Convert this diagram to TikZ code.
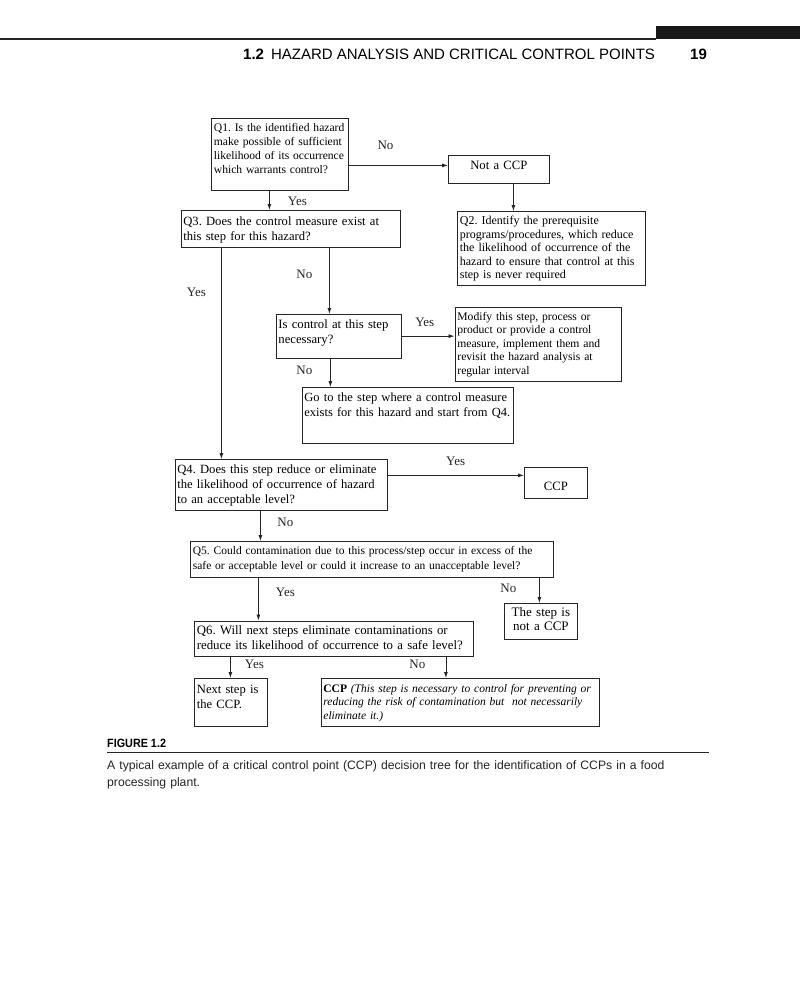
\documentclass[tikz,border=0pt]{standalone}
\usepackage{fontspec}
\setmainfont{Liberation Serif}
\newfontfamily\headfont{Liberation Sans}
\newfontfamily\figfont[FakeStretch=0.9]{Liberation Sans}
\usetikzlibrary{arrows.meta,positioning,calc}
\frenchspacing

\begin{document}
\hyphenpenalty=10000
\exhyphenpenalty=10000
\begin{tikzpicture}[x=1pt,y=-1pt,
  box/.style={draw=black!85,line width=0.8pt,anchor=north west,align=left,inner xsep=2.5pt,inner ysep=0pt},
  arr/.style={-{Latex[length=6pt,width=4pt]},line width=0.8pt,black!85}]
\fill[white] (0,0) rectangle (800,987);
\useasboundingbox (0,0) rectangle (800,987);

% running head
\draw[line width=1.2pt,black!85] (0,39) -- (656,39);
\fill[black!90] (656,26) rectangle (800,39);
\node[anchor=base west,inner sep=0pt,font=\headfont\fontsize{15}{18}\selectfont] (HD) at (243,60) {\textbf{1.2}\hspace{7pt}HAZARD ANALYSIS AND CRITICAL CONTROL POINTS};
\node[anchor=base west,inner sep=0pt,font=\headfont\fontsize{15}{18}\selectfont\bfseries] (PG) at (690,60) {19};

% decision tree
\node[box,text width=132pt,text height=13pt,text depth=58.5pt,font=\fontsize{11.6}{14}\selectfont] (Q1) at (211,118.5) {Q1. Is the identified hazard\\make possible of sufficient\\likelihood of its occurrence\\which warrants control?};
\node[box,align=center,text width=96pt,text height=14pt,text depth=14pt,font=\fontsize{12.7}{15}\selectfont] (NC) at (448,155) {Not a CCP};
\node[box,text width=183pt,text height=13.5pt,text depth=60.5pt,font=\fontsize{12}{13.5}\selectfont] (Q2) at (457,211) {Q2. Identify the prerequisite\\programs/procedures, which reduce\\the likelihood of occurrence of the\\hazard to ensure that control at this\\step is never required};
\node[box,text width=214.5pt,text height=15pt,text depth=22pt,font=\fontsize{12.6}{15.5}\selectfont] (Q3) at (180.5,210) {Q3. Does the control measure exist at\\this step for this hazard?};
\node[box,text width=120pt,text height=14.5pt,text depth=29pt,font=\fontsize{12.7}{15}\selectfont] (IC) at (275.5,314) {Is control at this step\\necessary?};
\node[box,text width=161pt,text height=12.7pt,text depth=60.8pt,font=\fontsize{11.6}{13.6}\selectfont] (MOD) at (454.5,307) {Modify this step, process or\\product or provide a control\\measure, implement them and\\revisit the hazard analysis at\\regular interval};
\node[box,text width=206.5pt,text height=14.5pt,text depth=41pt,font=\fontsize{12.5}{15}\selectfont] (GO) at (301.5,387) {Go to the step where a control measure\\exists for this hazard and start from Q4.};
\node[box,text width=207pt,text height=14pt,text depth=37pt,font=\fontsize{12.6}{15}\selectfont] (Q4) at (174.5,459) {Q4. Does this step reduce or eliminate\\the likelihood of occurrence of hazard\\to an acceptable level?};
\node[box,align=center,text width=58pt,text height=23pt,text depth=8pt,font=\fontsize{12.7}{15}\selectfont] (CCP) at (524,467) {CCP};
\node[box,text width=357.5pt,text height=13.5pt,text depth=22.5pt,font=\fontsize{11.5}{14.5}\selectfont] (Q5) at (190,541) {Q5. Could contamination due to this process/step occur in excess of the\\safe or acceptable level or could it increase to an unacceptable level?};
\node[box,align=center,text width=68pt,text height=13pt,text depth=23pt,font=\fontsize{13}{14}\selectfont] (NS) at (504,603) {The step is\\not a CCP};
\node[box,text width=274pt,text height=14pt,text depth=21.5pt,font=\fontsize{12.8}{15}\selectfont] (Q6) at (194,620.5) {Q6. Will next steps eliminate contaminations or\\reduce its likelihood of occurrence to a safe level?};
\node[box,text width=68pt,text height=15pt,text depth=33pt,font=\fontsize{12.6}{15}\selectfont] (NX) at (194,678) {Next step is\\the CCP.};
\node[box,text width=273.5pt,text height=14pt,text depth=34pt,font=\fontsize{11.5}{13.5}\selectfont] (CCPb) at (320.5,678) {\textbf{CCP} \textit{(This step is necessary to control for preventing or\\reducing the risk of contamination but~ not necessarily\\eliminate it.)}};

% connector ends
\coordinate (a1) at ([yshift=-10.75pt]Q1.east);
\coordinate (a2) at ([xshift=14.5pt]NC.south);
\coordinate (a3) at ([xshift=-10.5pt]Q1.south);
\coordinate (a4) at ([xshift=-69.25pt]Q3.south);
\coordinate (a5) at ([xshift=38.75pt]Q3.south);
\coordinate (a7) at ([xshift=-8pt]IC.south);
\coordinate (a8) at ([yshift=9.5pt]Q4.east);
\coordinate (a9) at ([xshift=-20.5pt]Q4.south);
\coordinate (a10) at ([xshift=-113.25pt]Q5.south);
\coordinate (a11) at ([xshift=167.75pt]Q5.south);
\coordinate (a12) at ([xshift=-103.5pt]Q6.south);
\coordinate (a13) at ([xshift=112pt]Q6.south);

\path[arr,font=\fontsize{13}{15}\selectfont]
(a1) edge node[pos=.37,yshift=20pt]{No} (a1 -| NC.west)
(a2) edge (a2 |- Q2.north)
(a3) edge node[pos=.55,xshift=28pt]{Yes} (a3 |- Q3.north)
(a4) edge node[pos=.21,xshift=-25pt]{Yes} (a4 |- Q4.north)
(a5) edge node[pos=.4,xshift=-25pt]{No} (a5 |- IC.north)
(IC.east) edge node[pos=.44,yshift=14pt]{Yes} (IC.east -| MOD.west)
(a7) edge node[pos=.43,xshift=-26pt]{No} (a7 |- GO.north)
(a8) edge node[pos=.5,yshift=14pt]{Yes} (a8 -| CCP.west)
(a9) edge node[pos=.39,xshift=25pt]{No} (a9 |- Q5.north)
(a10) edge node[pos=.34,xshift=27pt]{Yes} (a10 |- Q6.north)
(a11) edge node[pos=.42,xshift=-31pt]{No} (a11 |- NS.north)
(a12) edge node[pos=.36,xshift=24pt]{Yes} (a12 |- NX.north)
(a13) edge node[pos=.36,xshift=-28.5pt]{No} (a13 |- CCPb.north);

% caption
\node[anchor=base west,inner sep=0pt,font=\figfont\fontsize{12}{14}\selectfont\bfseries] (FG) at (107,747) {FIGURE 1.2};
\draw[line width=0.8pt,black!85] (107,752.5) -- (709,752.5);
\node[anchor=base west,inner sep=0pt,align=left,text width=600pt,font=\headfont\fontsize{12.2}{17}\selectfont,text=black!85] (CAP) at (107,769) {A typical example of a critical control point (CCP) decision tree for the identification of CCPs in a food\\processing plant.};
\end{tikzpicture}
\end{document}
